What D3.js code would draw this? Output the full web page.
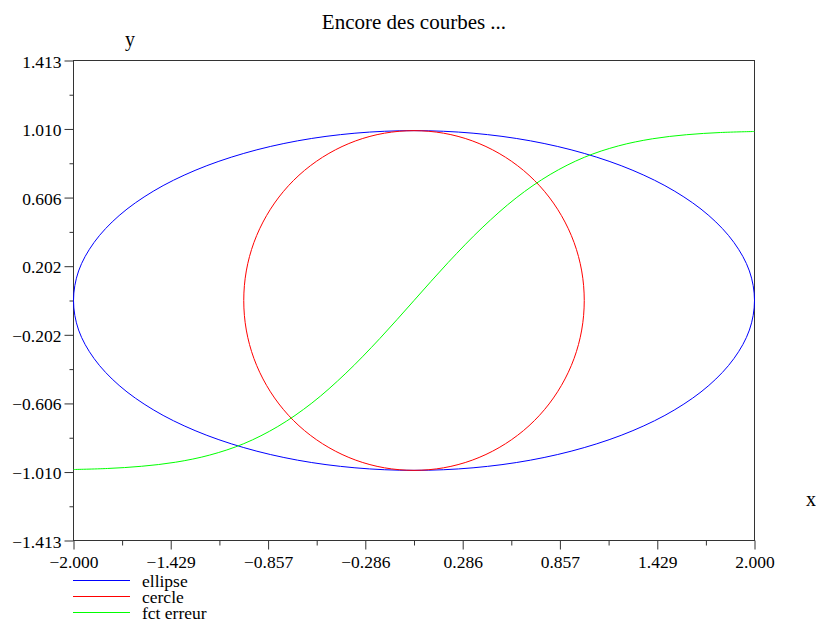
<!DOCTYPE html>
<html><head><meta charset="utf-8">
<script src="https://cdn.jsdelivr.net/npm/d3@7"></script>
<style>html,body{margin:0;padding:0;background:#fff;}svg{display:block;}</style>
</head><body>
<svg id="chart" width="816" height="621"></svg>
<script>
const title = "Encore des courbes ...";
const xTicks = [-2.000, -1.429, -0.857, -0.286, 0.286, 0.857, 1.429, 2.000];
const yTicks = [-1.413, -1.010, -0.606, -0.202, 0.202, 0.606, 1.010, 1.413];
const seriesNames = ["ellipse", "cercle", "fct erreur"];
const seriesColors = ["#0000ff", "#ff0000", "#00ff00"];

const ellipseX = [2, 1.970, 1.879, 1.732, 1.532, 1.286, 1.000, 0.684, 0.347, 0, -0.347, -0.684, -1.000, -1.286, -1.532, -1.732, -1.879, -1.970,
  -2, -1.970, -1.879, -1.732, -1.532, -1.286, -1.000, -0.684, -0.347, 0, 0.347, 0.684, 1.000, 1.286, 1.532, 1.732, 1.879, 1.970];
const ellipseY = [0, 0.174, 0.342, 0.500, 0.643, 0.766, 0.866, 0.940, 0.985, 1, 0.985, 0.940, 0.866, 0.766, 0.643, 0.500, 0.342, 0.174,
  0, -0.174, -0.342, -0.500, -0.643, -0.766, -0.866, -0.940, -0.985, -1, -0.985, -0.940, -0.866, -0.766, -0.643, -0.500, -0.342, -0.174];
const circleX = [1, 0.985, 0.940, 0.866, 0.766, 0.643, 0.500, 0.342, 0.174, 0, -0.174, -0.342, -0.500, -0.643, -0.766, -0.866, -0.940, -0.985,
  -1, -0.985, -0.940, -0.866, -0.766, -0.643, -0.500, -0.342, -0.174, 0, 0.174, 0.342, 0.500, 0.643, 0.766, 0.866, 0.940, 0.985];
const circleY = [0, 0.174, 0.342, 0.500, 0.643, 0.766, 0.866, 0.940, 0.985, 1, 0.985, 0.940, 0.866, 0.766, 0.643, 0.500, 0.342, 0.174,
  0, -0.174, -0.342, -0.500, -0.643, -0.766, -0.866, -0.940, -0.985, -1, -0.985, -0.940, -0.866, -0.766, -0.643, -0.500, -0.342, -0.174];
const erfX = [-2.0, -1.8, -1.6, -1.4, -1.2, -1.0, -0.8, -0.6, -0.4, -0.2, 0, 0.2, 0.4, 0.6, 0.8, 1.0, 1.2, 1.4, 1.6, 1.8, 2.0];
const erfY = [-0.995, -0.989, -0.976, -0.952, -0.910, -0.843, -0.742, -0.604, -0.428, -0.223, 0, 0.223, 0.428, 0.604, 0.742, 0.843, 0.910, 0.952, 0.976, 0.989, 0.995];

const svg = d3.select("#chart");
const L = 73.5, R = 754.5, T = 60.5, B = 540.5;
const x = d3.scaleLinear().domain([-2, 2]).range([L, R]);
const y = d3.scaleLinear().domain([-1.413, 1.413]).range([B, T]);
const font = "'Liberation Serif', 'Times New Roman', serif";
const fmt = v => d3.format(".3f")(v).replace("-", "\u2212");

// minor ticks (midpoints)
const xMinor = xTicks.slice(1).map((v, i) => (v + xTicks[i]) / 2);
const yMinor = yTicks.slice(1).map((v, i) => (v + yTicks[i]) / 2);

const gx = svg.append("g").attr("transform", `translate(0,${B})`)
  .call(d3.axisBottom(x).tickValues(xTicks).tickSize(9).tickFormat(fmt));
gx.select(".domain").remove();
gx.selectAll("text").attr("font-family", font).attr("font-size", 17.5).attr("fill", "#000").attr("dy", null).attr("y", 27.5);
gx.selectAll("line").attr("stroke", "#333");
const gxm = svg.append("g").attr("transform", `translate(0,${B})`)
  .call(d3.axisBottom(x).tickValues(xMinor).tickSize(5).tickFormat(""));
gxm.select(".domain").remove();
gxm.selectAll("line").attr("stroke", "#333");

const gy = svg.append("g").attr("transform", `translate(${L},0)`)
  .call(d3.axisLeft(y).tickValues(yTicks).tickSize(9).tickFormat(fmt));
gy.select(".domain").remove();
gy.selectAll("text").attr("font-family", font).attr("font-size", 17.5).attr("fill", "#000").attr("dy", null).attr("y", 6.5).attr("x", -12);
gy.selectAll("line").attr("stroke", "#333");
const gym = svg.append("g").attr("transform", `translate(${L},0)`)
  .call(d3.axisLeft(y).tickValues(yMinor).tickSize(4).tickFormat(""));
gym.select(".domain").remove();
gym.selectAll("line").attr("stroke", "#333");

// frame
svg.append("rect").attr("x", L).attr("y", T).attr("width", R - L).attr("height", B - T)
  .attr("fill", "none").attr("stroke", "#333").attr("stroke-width", 1);

const toPts = (xs, ys) => xs.map((v, i) => [v, ys[i]]);
const closedLine = d3.line().x(d => x(d[0])).y(d => y(d[1])).curve(d3.curveCatmullRomClosed);
const openLine = d3.line().x(d => x(d[0])).y(d => y(d[1])).curve(d3.curveCatmullRom);

svg.append("path").attr("d", closedLine(toPts(ellipseX, ellipseY))).attr("fill", "none").attr("stroke", seriesColors[0]).attr("stroke-width", 1);
svg.append("path").attr("d", closedLine(toPts(circleX, circleY))).attr("fill", "none").attr("stroke", seriesColors[1]).attr("stroke-width", 1);
svg.append("path").attr("d", openLine(toPts(erfX, erfY))).attr("fill", "none").attr("stroke", seriesColors[2]).attr("stroke-width", 1);

// titles
svg.append("text").attr("x", (L + R) / 2).attr("y", 28.5).attr("text-anchor", "middle")
  .attr("font-family", font).attr("font-size", 21).text(title);
svg.append("text").attr("x", 130).attr("y", 46).attr("text-anchor", "middle")
  .attr("font-family", font).attr("font-size", 20).text("y");
svg.append("text").attr("x", 811).attr("y", 506).attr("text-anchor", "middle")
  .attr("font-family", font).attr("font-size", 20).text("x");

// legend
const lg = svg.append("g");
seriesNames.forEach((n, i) => {
  const ly = 580.5 + i * 16;
  lg.append("line").attr("x1", 73).attr("x2", 130).attr("y1", ly).attr("y2", ly)
    .attr("stroke", seriesColors[i]).attr("stroke-width", 1);
  lg.append("text").attr("x", 142).attr("y", ly + 6).attr("font-family", font)
    .attr("font-size", 17.5).text(n);
});
</script>
</body></html>
